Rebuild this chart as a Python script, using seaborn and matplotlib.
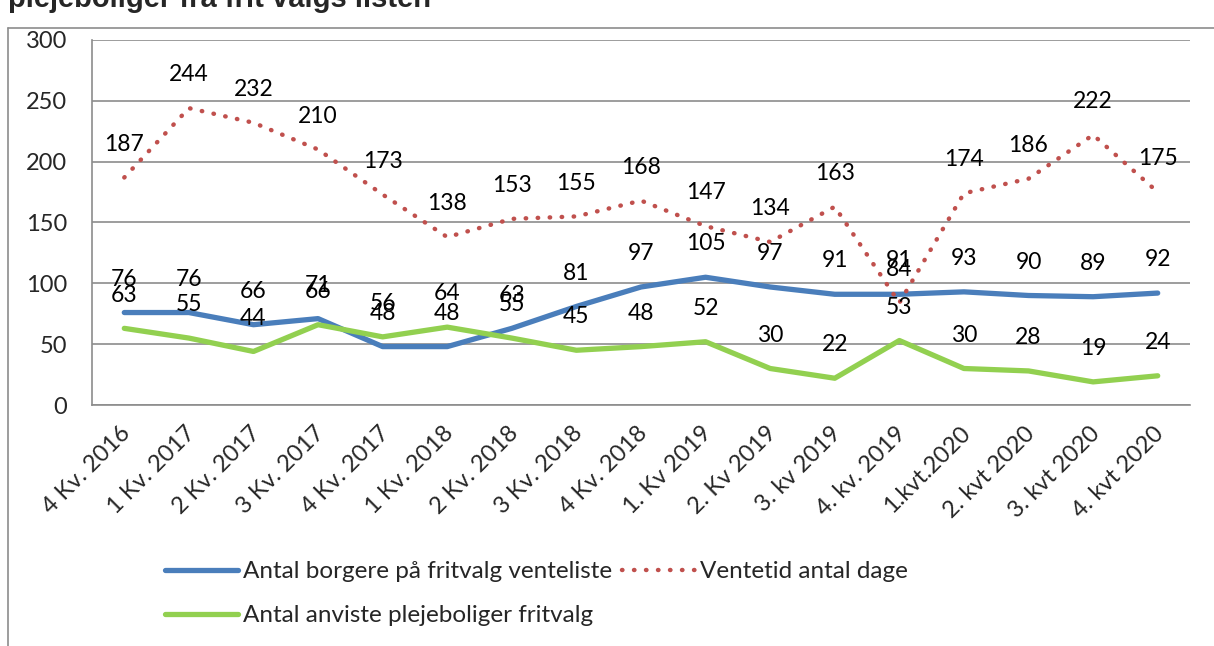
import matplotlib
matplotlib.use("Agg")
import matplotlib.pyplot as plt
import matplotlib.transforms as mtransforms
from matplotlib.lines import Line2D
import pandas as pd
import seaborn as sns

quarters = ["4 Kv. 2016", "1 Kv. 2017", "2 Kv. 2017", "3 Kv. 2017", "4 Kv. 2017",
            "1 Kv. 2018", "2 Kv. 2018", "3 Kv. 2018", "4 Kv. 2018", "1. Kv 2019",
            "2. Kv 2019", "3. kv 2019", "4. kv. 2019", "1.kvt.2020", "2. kvt 2020",
            "3. kvt 2020", "4. kvt 2020"]
venteliste = [76, 76, 66, 71, 48, 48, 63, 81, 97, 105, 97, 91, 91, 93, 90, 89, 92]
ventetid = [187, 244, 232, 210, 173, 138, 153, 155, 168, 147, 134, 163, 84, 174, 186, 222, 175]
anviste = [63, 55, 44, 66, 56, 64, 55, 45, 48, 52, 30, 22, 53, 30, 28, 19, 24]

series_names = ["Antal borgere på fritvalg venteliste", "Ventetid antal dage",
                "Antal anviste plejeboliger fritvalg"]
colors = ["#4A7EBB", "#C0504D", "#92D050"]
dotted = (0, (0.1, 2.6))

sns.set_style("white")
plt.rcParams["font.family"] = ["Lato", "DejaVu Sans"]

df = pd.DataFrame({"pos": range(len(quarters)),
                   series_names[0]: venteliste,
                   series_names[1]: ventetid,
                   series_names[2]: anviste})
long = df.melt(id_vars="pos", var_name="serie", value_name="value")

fig = plt.figure(figsize=(12.14, 6.46), dpi=100)
ax = fig.add_axes([92 / 1214, 241 / 646, 1098 / 1214, 365 / 646])

for name, col in zip(series_names, colors):
    sub = long[long["serie"] == name]
    if name == "Ventetid antal dage":
        sns.lineplot(data=sub, x="pos", y="value", ax=ax, color=col, lw=3.2,
                     linestyle=dotted, dash_capstyle="round", legend=False)
    else:
        sns.lineplot(data=sub, x="pos", y="value", ax=ax, color=col, lw=3.8,
                     solid_capstyle="round", legend=False)
    for x, v in zip(sub["pos"], sub["value"]):
        ax.annotate(str(v), (x, v), xytext=(0, 24), textcoords="offset points",
                    ha="center", va="center", fontsize=16.5, color="black")

ax.set_xlim(-0.5, len(quarters) - 0.5)
ax.set_ylim(0, 300)
ax.set_yticks(range(0, 301, 50))
ax.grid(axis="y", color="#8c8c8c", lw=1.2)
ax.set_axisbelow(True)
for s in ["top", "right"]:
    ax.spines[s].set_visible(False)
for s in ["left", "bottom"]:
    ax.spines[s].set_color("#8c8c8c")
    ax.spines[s].set_linewidth(1.2)

# ticks between categories, labels at category centres
ax.set_xticks([i - 0.5 for i in range(len(quarters) + 1)])
ax.set_xticklabels([])
ax.tick_params(axis="x", which="major", direction="out", length=7, width=1.2, color="#8c8c8c")
ax.set_xticks(range(len(quarters)), minor=True)
ax.set_xticklabels(quarters, minor=True, rotation=45, ha="right", va="center",
                   rotation_mode="anchor", fontsize=17)
ax.tick_params(axis="x", which="minor", length=0, pad=0)
shift = mtransforms.ScaledTranslation(0.03, -0.25, fig.dpi_scale_trans)
for lbl in ax.get_xticklabels(minor=True):
    lbl.set_transform(lbl.get_transform() + shift)
ax.tick_params(axis="y", direction="out", length=8, width=1.2, color="#8c8c8c",
               labelsize=17, pad=10)
ax.set_xlabel("")
ax.set_ylabel("")

# order so rows read: blue, red / green
handles = [Line2D([], [], color=colors[0], lw=3.8, solid_capstyle="round"),
           Line2D([], [], color=colors[2], lw=3.8, solid_capstyle="round"),
           Line2D([], [], color=colors[1], lw=3.2, linestyle=dotted,
                  dash_capstyle="round")]
labels = [series_names[0], series_names[2], series_names[1]]
fig.legend(handles, labels, ncol=2, loc="upper left",
           bbox_to_anchor=(153 / 1214, 1 - 549 / 646), frameon=False, borderpad=0,
           fontsize=17.5, handlelength=3.0, handletextpad=0.2,
           columnspacing=0.4, labelspacing=0.95)

# chart frame and clipped title
fig.add_artist(Line2D([8 / 1214, 8 / 1214], [0, 1 - 28 / 646], color="#8c8c8c",
                      lw=1.2, transform=fig.transFigure))
fig.add_artist(Line2D([8 / 1214, 1], [1 - 28 / 646, 1 - 28 / 646], color="#8c8c8c",
                      lw=1.2, transform=fig.transFigure))
fig.text(8 / 1214, 1 - 7 / 646, "plejeboliger fra frit valgs listen",
         family="Liberation Sans", weight="bold", fontsize=21, va="baseline")

fig.savefig("out.png", dpi=100, facecolor="white")
